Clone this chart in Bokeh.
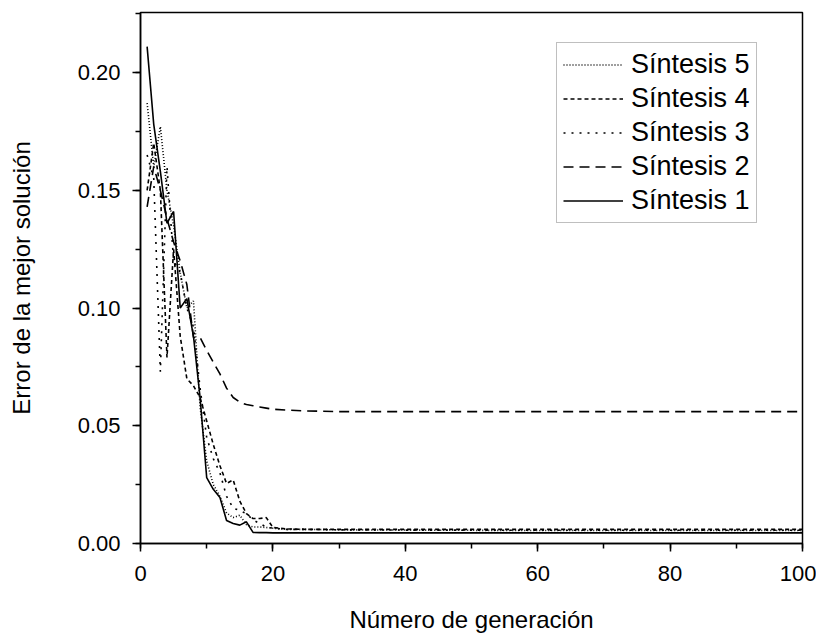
from bokeh.plotting import figure
from bokeh.models import (Range1d, SingleIntervalTicker, NumeralTickFormatter,
                          Legend, LegendItem)
from bokeh.embed import file_html
from bokeh.resources import INLINE

# Generation numbers (x values)
generations = [1, 2, 3, 4, 5, 6, 7, 8, 9, 10, 11, 12, 13, 14, 15, 16, 17, 18, 19, 20,
               22, 25, 30, 40, 50, 60, 70, 80, 90, 100]

# Best-solution error per synthesis run
sintesis_1 = [0.211, 0.178, 0.158, 0.136, 0.141, 0.100, 0.104, 0.088, 0.062, 0.028,
              0.023, 0.0195, 0.0098, 0.0085, 0.0078, 0.0092, 0.0047, 0.0046, 0.0046, 0.0045,
              0.0045, 0.0045, 0.0045, 0.0045, 0.0045, 0.0045, 0.0045, 0.0045, 0.0045, 0.0045]
sintesis_2 = [0.143, 0.160, 0.150, 0.138, 0.128, 0.120, 0.110, 0.0875, 0.0875, 0.082,
              0.077, 0.072, 0.066, 0.062, 0.060, 0.059, 0.0585, 0.058, 0.0575, 0.057,
              0.0567, 0.0563, 0.056, 0.056, 0.056, 0.056, 0.056, 0.056, 0.056, 0.056]
sintesis_3 = [0.165, 0.155, 0.073, 0.160, 0.120, 0.115, 0.100, 0.092, 0.066, 0.045,
              0.036, 0.030, 0.020, 0.015, 0.014, 0.0127, 0.010, 0.0085, 0.007, 0.0065,
              0.006, 0.006, 0.0058, 0.0057, 0.0057, 0.0056, 0.0056, 0.0056, 0.0056, 0.0056]
sintesis_4 = [0.150, 0.170, 0.150, 0.079, 0.125, 0.088, 0.070, 0.067, 0.062, 0.052,
              0.042, 0.033, 0.0255, 0.027, 0.018, 0.0127, 0.0106, 0.0106, 0.011, 0.0068,
              0.0062, 0.006, 0.006, 0.006, 0.006, 0.006, 0.006, 0.006, 0.006, 0.006]
sintesis_5 = [0.187, 0.160, 0.177, 0.150, 0.135, 0.115, 0.100, 0.103, 0.058, 0.035,
              0.025, 0.020, 0.013, 0.011, 0.012, 0.008, 0.007, 0.007, 0.0068, 0.0065,
              0.006, 0.006, 0.0058, 0.0057, 0.0056, 0.0055, 0.0055, 0.0055, 0.0055, 0.0055]

legend_labels = ["Síntesis 5", "Síntesis 4", "Síntesis 3", "Síntesis 2", "Síntesis 1"]

FONT = "Liberation Sans"

p = figure(width=816, height=635, output_backend="svg", toolbar_location=None,
           x_range=Range1d(0, 100), y_range=Range1d(0, 0.2255),
           min_border_left=140, min_border_right=14, min_border_top=12, min_border_bottom=92)

p.xgrid.visible = False
p.ygrid.visible = False
p.background_fill_color = "white"
p.border_fill_color = "white"
p.outline_line_color = "black"
p.outline_line_width = 1.5

style = dict(line_color="black", line_width=1.6)
r5 = p.line(generations, sintesis_5, line_dash="1 2", **style)
r4 = p.line(generations, sintesis_4, line_dash="4 3", **style)
r3 = p.line(generations, sintesis_3, line_dash="2 6", **style)
r2 = p.line(generations, sintesis_2, line_dash="10 6", **style)
r1 = p.line(generations, sintesis_1, **style)

for ax in (p.xaxis[0], p.yaxis[0]):
    ax.axis_line_color = "black"
    ax.axis_line_width = 1.5
    ax.major_tick_line_color = "black"
    ax.major_tick_line_width = 1.5
    ax.minor_tick_line_color = "black"
    ax.minor_tick_line_width = 1.5
    ax.major_tick_in = 0
    ax.major_tick_out = 8
    ax.minor_tick_in = 0
    ax.minor_tick_out = 5
    ax.major_label_text_font = FONT
    ax.major_label_text_font_size = "22px"
    ax.major_label_text_color = "black"
    ax.axis_label_text_font = FONT
    ax.axis_label_text_font_size = "24px"
    ax.axis_label_text_font_style = "normal"
    ax.axis_label_text_color = "black"

p.xaxis.ticker = SingleIntervalTicker(interval=20, num_minor_ticks=2)
p.yaxis.ticker = SingleIntervalTicker(interval=0.05, num_minor_ticks=2)
p.yaxis.formatter = NumeralTickFormatter(format="0.00")
p.xaxis.axis_label = "Número de generación"
p.yaxis.axis_label = "Error de la mejor solución"
p.xaxis.major_label_standoff = 14
p.yaxis.major_label_standoff = 12
p.xaxis.axis_label_standoff = 22
p.yaxis.axis_label_standoff = 40

legend = Legend(items=[LegendItem(label=lbl, renderers=[r]) for lbl, r in
                       zip(legend_labels, [r5, r4, r3, r2, r1])],
                location=(416, 320))
legend.label_text_font = FONT
legend.label_text_font_size = "27px"
legend.label_text_color = "black"
legend.glyph_width = 60
legend.glyph_height = 31
legend.label_height = 31
legend.spacing = 3
legend.padding = 6
legend.margin = 0
legend.label_standoff = 8
legend.border_line_color = "#808080"
legend.border_line_width = 1.2
legend.background_fill_color = "white"
legend.background_fill_alpha = 1.0
p.add_layout(legend, "center")

open("out.html", "w").write(file_html(p, INLINE))
